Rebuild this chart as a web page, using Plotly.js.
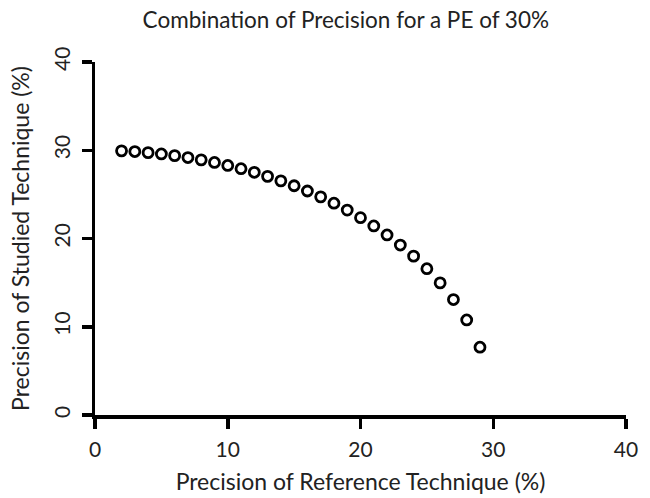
<!DOCTYPE html>
<html>
<head>
<meta charset="utf-8">
<script src="https://cdn.plot.ly/plotly-3.0.1.min.js"></script>
<style>html,body{margin:0;padding:0;background:#fff;}#chart{width:650px;height:498px;}</style>
</head>
<body>
<div id="chart"></div>
<script>
var referencePrecision = [2,3,4,5,6,7,8,9,10,11,12,13,14,15,16,17,18,19,20,21,22,23,24,25,26,27,28,29];
var studiedPrecision = [29.93,29.85,29.73,29.58,29.39,29.17,28.91,28.62,28.28,27.91,27.50,27.04,26.53,25.98,25.38,24.72,24.00,23.22,22.36,21.42,20.40,19.26,18.00,16.58,14.97,13.08,10.77,7.68];
var tickValues = [0,10,20,30,40];
var tickLabels = ["0","10","20","30","40"];

var trace = {
  x: referencePrecision,
  y: studiedPrecision,
  type: 'scatter',
  mode: 'markers',
  marker: {symbol: 'circle-open', size: 10, color: '#000', line: {width: 2.8, color: '#000'}},
  cliponaxis: false,
  hoverinfo: 'x+y'
};

var fontFam = 'Lato, "Open Sans", sans-serif';
var axisCommon = {
  range: [0, 40],
  tickvals: tickValues,
  ticktext: tickLabels,
  showgrid: false,
  zeroline: false,
  showline: true,
  linecolor: '#000',
  linewidth: 3.5,
  ticks: 'outside',
  ticklen: 10,
  tickwidth: 3.5,
  tickcolor: '#000',
  tickfont: {family: fontFam, size: 21, color: '#222'}
};

var layout = {
  width: 650,
  height: 498,
  margin: {l: 95, r: 24, t: 62, b: 83},
  paper_bgcolor: '#fff',
  plot_bgcolor: '#fff',
  showlegend: false,
  font: {family: fontFam, color: '#222'},
  title: {text: 'Combination of Precision for a PE of 30%', x: 0.532, xanchor: 'center', y: 0.96, yanchor: 'middle', font: {size: 22.5, color: '#222'}},
  xaxis: Object.assign({}, axisCommon, {
    ticklabelstandoff: 3,
    title: {text: 'Precision of Reference Technique (%)', font: {size: 23, color: '#222'}, standoff: 15}
  }),
  yaxis: Object.assign({}, axisCommon, {
    tickangle: -90,
    ticklabelstandoff: 3,
    title: {text: 'Precision of Studied Technique (%)', font: {size: 23, color: '#222'}, standoff: 14}
  })
};

Plotly.newPlot('chart', [trace], layout, {displayModeBar: false, staticPlot: true});
</script>
</body>
</html>
